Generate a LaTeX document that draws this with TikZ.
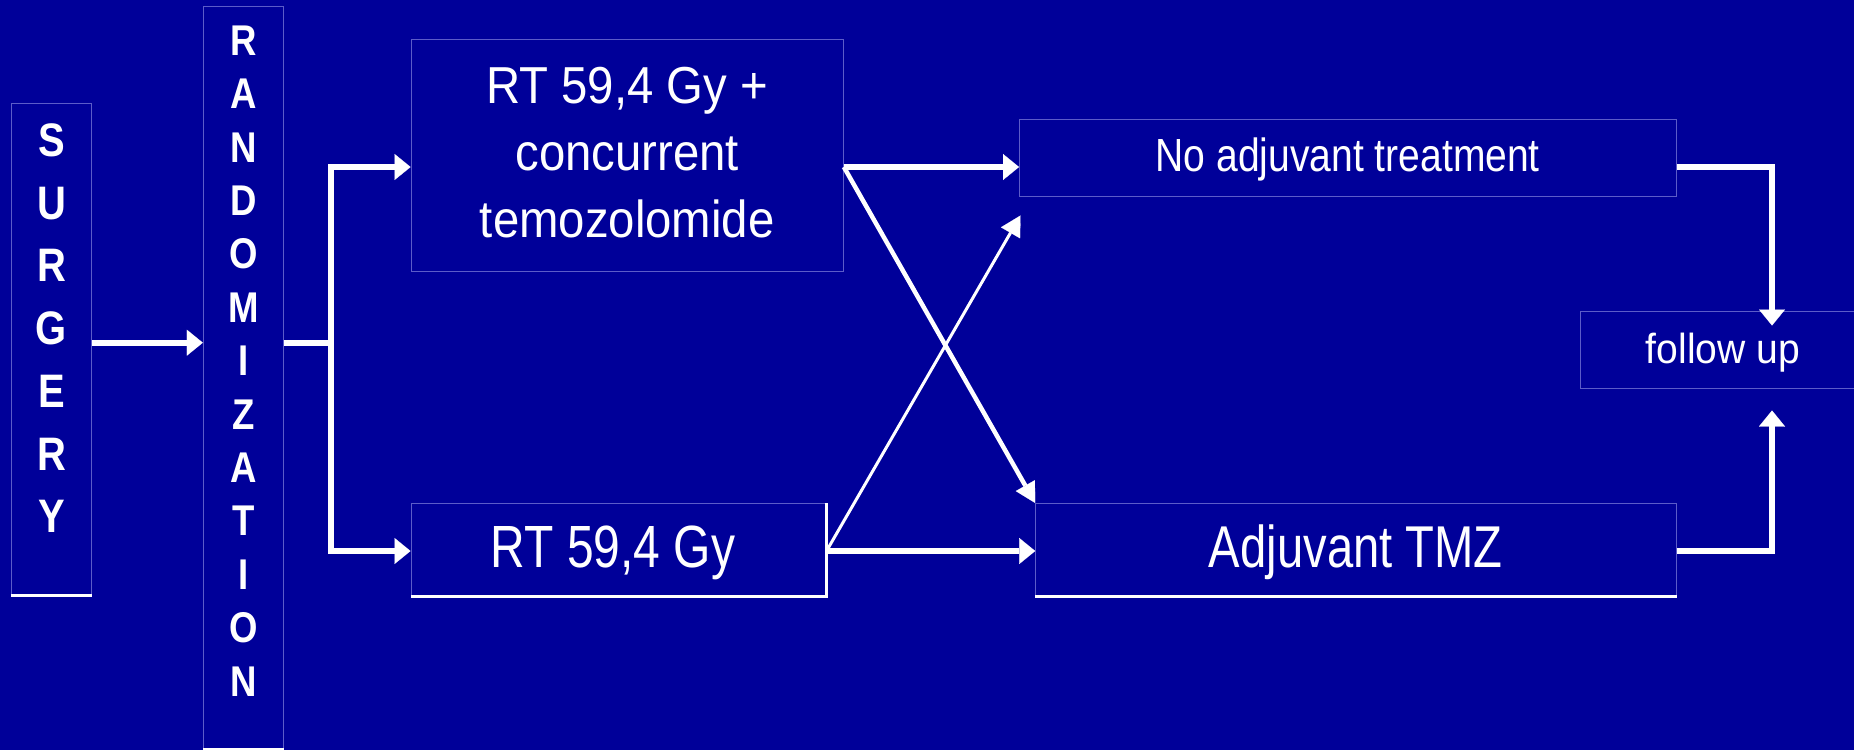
\documentclass[tikz,border=0pt]{standalone}
\usepackage{fontspec}
\setmainfont{Liberation Sans}
\usepackage{graphicx}
\usetikzlibrary{arrows.meta}
\definecolor{bgblue}{RGB}{0,0,153}
\definecolor{edgeblue}{RGB}{92,92,200}
\begin{document}
\begin{tikzpicture}[x=1pt,y=-1pt,
  box/.style={draw=edgeblue, line width=1pt, inner sep=0pt, text=white, anchor=center},
  wedge/.style={draw=white, line width=3pt},
  warr/.style={draw=white, line width=6pt, -{Triangle[length=16pt,width=26pt,line width=0.1pt]}},
  warrd/.style={draw=white, line width=4.5pt, -{Triangle[length=20pt,width=22pt,line width=0.1pt]}},
  warrt/.style={draw=white, line width=3pt, -{Triangle[length=20pt,width=22pt,line width=0.1pt]}}
]
\fill[bgblue] (0,0) rectangle (1854,750);
\useasboundingbox (0,0) rectangle (1854,750);

% boxes
\node[box, minimum width=80.4pt, minimum height=491.7pt,
      font=\bfseries\fontsize{47}{62.7}\selectfont, text height=0pt, text depth=385.4pt]
  (surg) at (51.5,349.2)
  {\scalebox{0.85}[1]{\begin{tabular}[t]{@{}c@{}}S\\U\\R\\G\\E\\R\\Y\end{tabular}}};
\node[box, minimum width=80pt, minimum height=742.5pt,
      font=\bfseries\fontsize{43}{53.4}\selectfont, text height=0pt, text depth=645.1pt]
  (rand) at (243.3,377.75)
  {\scalebox{0.85}[1]{\begin{tabular}[t]{@{}c@{}}R\\A\\N\\D\\O\\M\\I\\Z\\A\\T\\I\\O\\N\end{tabular}}};
\node[box, minimum width=432.3pt, minimum height=232pt,
      font=\fontsize{52}{67}\selectfont, text height=0pt, text depth=104pt]
  (rtc) at (627.2,155)
  {\scalebox{0.91}[1]{\begin{tabular}[t]{@{}c@{}}RT 59,4 Gy +\\concurrent\\temozolomide\end{tabular}}};
\node[box, minimum width=415pt, minimum height=92pt,
      font=\fontsize{59.6}{70}\selectfont, text height=36.4pt, text depth=0pt]
  (rt) at (618.5,549.5)
  {\scalebox{0.805}[1]{RT 59,4 Gy}\hspace*{11pt}};
\node[box, minimum width=656.5pt, minimum height=77.5pt,
      font=\fontsize{46.5}{56}\selectfont, text height=27.9pt, text depth=0pt]
  (noadj) at (1347.75,157.75)
  {\scalebox{0.84}[1]{No adjuvant treatment}};
\node[box, minimum width=640.3pt, minimum height=92pt,
      font=\fontsize{59}{70}\selectfont, text height=36.4pt, text depth=0pt]
  (adj) at (1355.85,549.5)
  {\scalebox{0.80}[1]{Adjuvant TMZ}};
\node[box, minimum width=286pt, minimum height=77pt,
      font=\fontsize{42}{50}\selectfont, text height=27.4pt, text depth=0pt]
  (fu) at (1723,349.8)
  {\scalebox{0.93}[1]{follow up}};

% white shadow edges
\draw[wedge] (surg.south west) -- (surg.south east);
\draw[wedge] (rand.south west) -- (rand.south east);
\draw[wedge] (rt.north east) -- (rt.south east) -- (rt.south west);
\draw[wedge] (adj.south west) -- (adj.south east);

% helper coordinates
\coordinate (split) at (331,342.7);
\coordinate (t1) at (331,167);
\coordinate (t2) at (331,551);
\coordinate (s1) at ([yshift=6.5pt]surg.east);
\coordinate (c1) at (rtc.east |- t1);
\coordinate (c2) at (rt.east |- t2);
\coordinate (dtip) at ([shift={(1.5,18.5)}]noadj.south west);
\coordinate (futop) at ([shift={(49,14.7)}]fu.north);
\coordinate (fubot) at ([shift={(49,21.7)}]fu.south);

% connectors
\draw[warr] (s1) -- (s1 -| rand.west);
\draw[warr] (rand.east |- split) -- (split) |- (t1 -| rtc.west);
\draw[warr] (split) |- (t2 -| rt.west);
\draw[warr] (c1) -- (c1 -| noadj.west);
\draw[warrd] (c1) -- (adj.north west);
\draw[warr] (c2) -- (c2 -| adj.west);
\draw[warrt] (c2) -- (dtip);
\draw[warr] (noadj.east |- t1) -| (futop);
\draw[warr] (adj.east |- t2) -| (fubot);
\end{tikzpicture}
\end{document}
